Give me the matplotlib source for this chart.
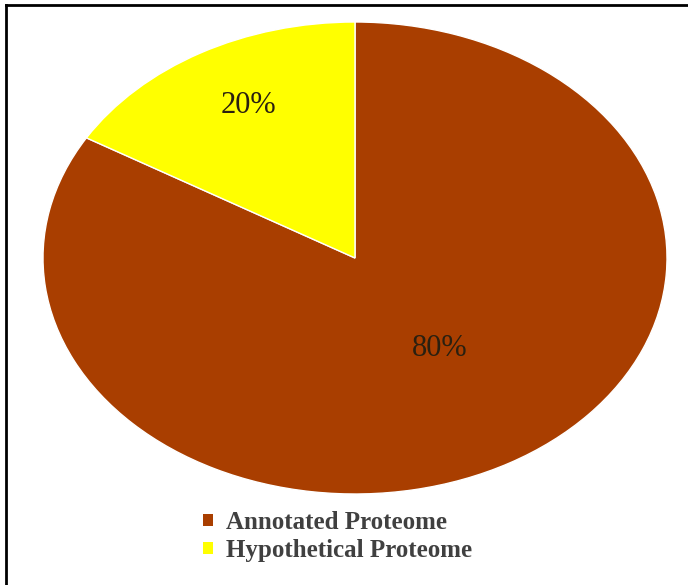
import matplotlib
matplotlib.use("Agg")
import matplotlib.pyplot as plt
from matplotlib.lines import Line2D
from matplotlib.patches import Patch

categories = ["Annotated Proteome", "Hypothetical Proteome"]
shares = [83.5, 16.5]
pct_labels = ["80%", "20%"]
colors = ["#A93E00", "#FFFF00"]

fig = plt.figure(figsize=(6.88, 5.85), dpi=100)
ax = fig.add_axes([43/688, 1-494/585, 624/688, 472/585])

wedges, _ = ax.pie(shares, colors=colors, startangle=90, counterclock=False,
                   wedgeprops=dict(edgecolor="white", linewidth=1))
ax.set_aspect("auto")
ax.set_xlim(-1, 1)
ax.set_ylim(-1, 1)
ax.axis("off")

label_pos = [(0.272, -0.385), (-0.340, 0.645)]
for (x, y), t in zip(label_pos, pct_labels):
    ax.text(x, y, t, ha="center", va="center", fontsize=22,
            family="Liberation Serif", color="#2a2010")

handles = [Patch(facecolor=c, edgecolor="none") for c in colors]
fig.legend(handles, categories, loc="center left", bbox_to_anchor=(0.295, 0.083),
           frameon=False, borderpad=0, borderaxespad=0,
           handlelength=0.42, handleheight=0.42, handletextpad=0.5,
           labelspacing=0.2,
           prop=dict(family="Liberation Serif", weight="bold", size=18),
           labelcolor="#404040")

# frame lines (top and left)
fig.add_artist(Line2D([6/688, 1], [1-5/585, 1-5/585], transform=fig.transFigure,
                      color="black", linewidth=2.0))
fig.add_artist(Line2D([6/688, 6/688], [0, 1-5/585], transform=fig.transFigure,
                      color="black", linewidth=2.0))

fig.savefig("out.png", dpi=100)
